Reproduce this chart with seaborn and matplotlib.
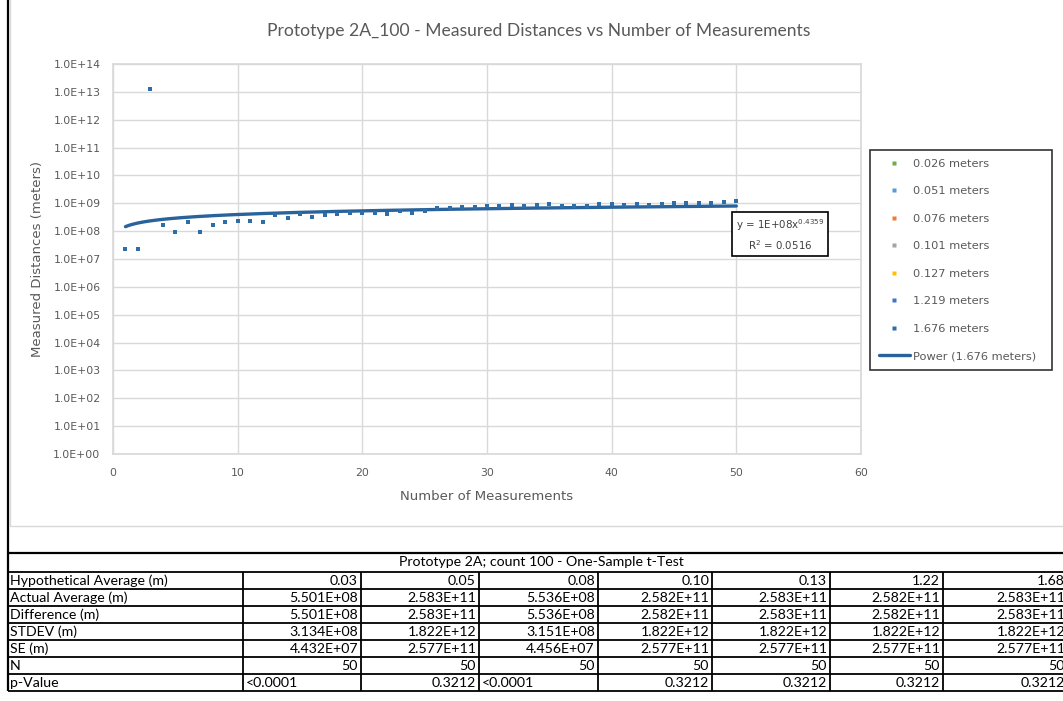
import numpy as np
import pandas as pd
import seaborn as sns
import matplotlib.pyplot as plt
from matplotlib.lines import Line2D
from matplotlib.ticker import FixedLocator, FuncFormatter, NullLocator

# measured series (1.676 meters is the one drawn on top, the others sit underneath it)
measurement = list(range(1, 51))
distance_1676 = [2.35e7, 2.35e7, 1.29e13, 1.67e8, 9.3e7, 2.1e8, 9.3e7, 1.67e8, 2.1e8, 2.4e8,
                 2.4e8, 2.1e8, 3.7e8, 3.0e8, 4.2e8, 3.2e8, 3.8e8, 4.0e8, 4.6e8, 4.6e8,
                 4.6e8, 4.0e8, 5.3e8, 4.6e8, 5.3e8, 7.0e8, 7.0e8, 7.6e8, 7.6e8, 7.7e8,
                 8.0e8, 8.7e8, 8.0e8, 8.7e8, 9.2e8, 8.0e8, 8.0e8, 8.0e8, 9.2e8, 9.2e8,
                 8.7e8, 9.2e8, 8.7e8, 9.2e8, 1.05e9, 1.05e9, 1.05e9, 1.05e9, 1.12e9, 1.2e9]

series_labels = ["0.026 meters", "0.051 meters", "0.076 meters", "0.101 meters",
                 "0.127 meters", "1.219 meters", "1.676 meters"]
series_colors = ["#70AD47", "#5B9BD5", "#ED7D31", "#A5A5A5", "#FFC000", "#4472C4", "#2E6DA6"]

# power trendline fitted on the 1.676 m series
trend_coef = 1.45e8
trend_exp = 0.4359
r_squared = 0.0516

# t-test table
table_title = "Prototype 2A; count 100 - One-Sample t-Test"
row_labels = ["Hypothetical Average (m)", "Actual Average (m)", "Difference (m)",
              "STDEV (m)", "SE (m)", "N", "p-Value"]
hyp_avg = ["0.03", "0.05", "0.08", "0.10", "0.13", "1.22", "1.68"]
actual_avg = ["5.501E+08", "2.583E+11", "5.536E+08", "2.582E+11", "2.583E+11", "2.582E+11", "2.583E+11"]
difference = ["5.501E+08", "2.583E+11", "5.536E+08", "2.582E+11", "2.583E+11", "2.582E+11", "2.583E+11"]
stdev = ["3.134E+08", "1.822E+12", "3.151E+08", "1.822E+12", "1.822E+12", "1.822E+12", "1.822E+12"]
se = ["4.432E+07", "2.577E+11", "4.456E+07", "2.577E+11", "2.577E+11", "2.577E+11", "2.577E+11"]
n_obs = ["50", "50", "50", "50", "50", "50", "50"]
p_value = ["<0.0001", "0.3212", "<0.0001", "0.3212", "0.3212", "0.3212", "0.3212"]

sns.set_theme(style="white")
plt.rcParams['font.family'] = ['DejaVu Sans']

W, H = 1063, 701
fig = plt.figure(figsize=(W / 100, H / 100), dpi=100)
fig.patch.set_facecolor("white")

# background layer in pixel coords for the sheet borders and the table
bg = fig.add_axes([0, 0, 1, 1])
bg.set_xlim(0, W)
bg.set_ylim(H, 0)
bg.axis("off")
bg.add_patch(plt.Rectangle((9.5, -2), W, 528, fill=False, ec="#D9D9D9", lw=1))
bg.vlines(8, 0, 691, color="black", lw=1.6)

col_edges = [8, 243, 361, 479, 598, 712, 830, 943, 1068]
row_top = 572
row_h = 17
bg.hlines(553, 8, W, color="black", lw=1.6)
for i in range(len(row_labels) + 1):
    bg.hlines(row_top + i * row_h, 8, W, color="black", lw=1.3)
for xe in col_edges:
    bg.vlines(xe, row_top, row_top + len(row_labels) * row_h, color="black", lw=1.3)
tfont = dict(family="Lato", fontsize=10.2, color="black", va="center")
bg.text(541, 562.5, table_title, ha="center", **tfont)
rows = [hyp_avg, actual_avg, difference, stdev, se, n_obs, p_value]
for r, (lab, vals) in enumerate(zip(row_labels, rows)):
    yc = row_top + r * row_h + row_h / 2 + 0.5
    bg.text(10, yc, lab, ha="left", **tfont)
    for c, v in enumerate(vals):
        if v.startswith("<"):
            bg.text(col_edges[c + 1] + 3, yc, v, ha="left", **tfont)
        else:
            bg.text(col_edges[c + 2] - 3, yc, v, ha="right", **tfont)

# main chart
ax = fig.add_axes([113 / W, 1 - 454 / H, 748 / W, 390 / H])
df = pd.DataFrame({"n": measurement, "dist": distance_1676})
sns.scatterplot(data=df, x="n", y="dist", marker="s", s=6.5, color=series_colors[-1],
                linewidth=0, ax=ax, zorder=3)

xs = np.linspace(1, 50, 200)
trend = pd.DataFrame({"n": xs, "dist": trend_coef * xs ** trend_exp})
sns.lineplot(data=trend, x="n", y="dist", color="#2A639C", lw=2.4, ax=ax, zorder=2)

ax.set_yscale("log")
ax.set_xlim(0, 60)
ax.set_ylim(1, 1e14)
ax.xaxis.set_major_locator(FixedLocator(range(0, 61, 10)))
ax.yaxis.set_major_locator(FixedLocator([10.0 ** k for k in range(0, 15)]))
ax.yaxis.set_minor_locator(NullLocator())
ax.yaxis.set_major_formatter(FuncFormatter(lambda v, p: f"{v:.1E}"))
ax.grid(True, color="#D9D9D9", lw=1)
for sp in ax.spines.values():
    sp.set_color("#D9D9D9")
ax.tick_params(axis="both", length=0, labelsize=7.8, labelcolor="#595959")
ax.tick_params(axis="y", pad=9)
ax.tick_params(axis="x", pad=10)

ax.set_xlabel("Number of Measurements", fontsize=9.5, color="#595959")
ax.xaxis.set_label_coords(0.5, (454 - 496) / 390)
ax.xaxis.label.set_va("center")
ax.set_ylabel("Measured Distances (meters)", fontsize=9.5, color="#595959")
ax.yaxis.set_label_coords((38 - 113) / 748, 0.5)
ax.yaxis.label.set_va("center")

fig.text(539 / W, 1 - 31 / H, "Prototype 2A_100 - Measured Distances vs Number of Measurements",
         ha="center", va="center", fontsize=12.6, color="#595959", family="Lato")

eq = f"y = {trend_coef:.0E}x$^{{{trend_exp}}}$\nR$^2$ = {r_squared}"
ax.text(53.5, 7.3e7, eq, ha="center", va="center", fontsize=7.4, color="#404040",
        linespacing=1.45,
        bbox=dict(boxstyle="square,pad=0.35", fc="white", ec="black", lw=1.2))

handles = [Line2D([], [], ls="none", marker="s", ms=2.8, mec="none", mfc=c) for c in series_colors]
handles.append(Line2D([], [], color="#2A639C", lw=2.4))
labels = series_labels + ["Power (1.676 meters)"]
leg = ax.legend(handles, labels, loc="upper left",
                bbox_to_anchor=(870 / W, 1 - 368 / H, 182 / W, 218 / H),
                bbox_transform=fig.transFigure, mode="expand", fontsize=8.2,
                frameon=True, fancybox=False, edgecolor="black", labelspacing=1.54,
                handlelength=2.8, handletextpad=0.2, borderpad=0.75, borderaxespad=0)
leg.get_frame().set_linewidth(1.2)
for t in leg.get_texts():
    t.set_color("#595959")

fig.savefig("out.png", dpi=100, facecolor="white")
